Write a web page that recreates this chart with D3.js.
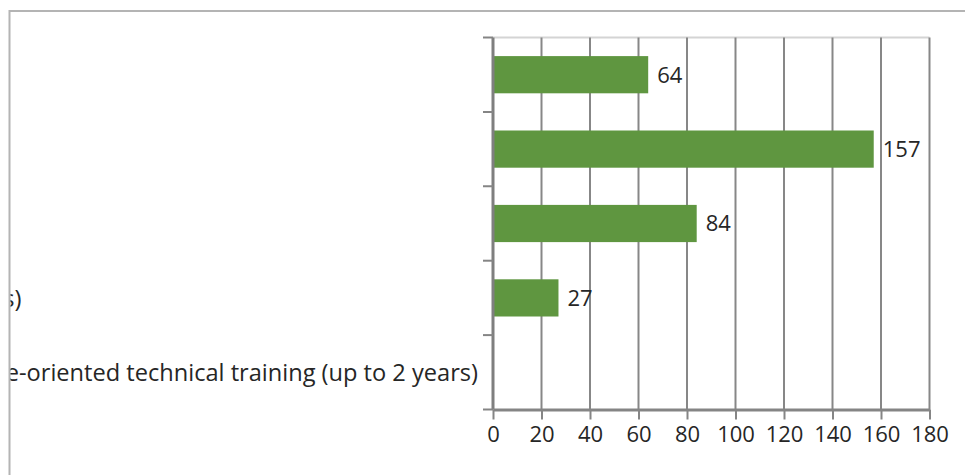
<!DOCTYPE html>
<html>
<head>
<meta charset="utf-8">
<script src="https://cdn.jsdelivr.net/npm/d3@7"></script>
<style>
  html, body { margin: 0; padding: 0; background: #fff; }
  svg { display: block; }
  text { font-family: "Open Sans", Lato, "Liberation Sans", sans-serif; fill: #262626; }
</style>
</head>
<body>
<svg id="chart" width="965" height="475"></svg>
<script>
// Highest completed qualification, number of respondents
const categories = [
  "Doctoral degree",
  "University degree",
  "Bachelor's degree",
  "Technical college (3 years)",
  "Vocational school, school-leaving certificate with additional practice-oriented technical training (up to 2 years)"
];
const values = [64, 157, 84, 27, null];
const xTicks = [0, 20, 40, 60, 80, 100, 120, 140, 160, 180];

const W = 965, H = 475;
const frame = { left: 9.5, top: 11 };
const plot = { left: 493, right: 929.5, top: 37.5, bottom: 409.5 };
const numberSize = 22;
const labelSize = 23.6;
const labelRight = 478;

const svg = d3.select("#chart");

// chart frame, cut at the page edge
svg.append("defs").append("clipPath").attr("id", "frameClip")
  .append("rect").attr("x", frame.left + 1).attr("y", frame.top + 1)
  .attr("width", W).attr("height", H);

svg.append("path")
  .attr("d", `M${frame.left},${H} V${frame.top} H${W}`)
  .attr("fill", "none").attr("stroke", "#b4b4b4").attr("stroke-width", 2);

const g = svg.append("g").attr("clip-path", "url(#frameClip)");

const x = d3.scaleLinear().domain([0, 180]).range([plot.left, plot.right]);
const y = d3.scaleBand().domain(categories)
  .range([plot.top, plot.bottom]).paddingInner(0.5).paddingOuter(0.25);

// plot area top edge
g.append("line")
  .attr("x1", plot.left).attr("x2", plot.right)
  .attr("y1", plot.top).attr("y2", plot.top)
  .attr("stroke", "#d4d4d4").attr("stroke-width", 2);

// vertical gridlines
g.append("g").selectAll("line")
  .data(xTicks.filter(d => d > 0))
  .join("line")
  .attr("x1", d => x(d)).attr("x2", d => x(d))
  .attr("y1", plot.top).attr("y2", plot.bottom)
  .attr("stroke", "#878787").attr("stroke-width", 2);

// bars
const rows = categories.map((c, i) => ({ c, v: values[i] })).filter(d => d.v != null);
g.append("g").selectAll("rect")
  .data(rows)
  .join("rect")
  .attr("x", x(0))
  .attr("y", d => y(d.c))
  .attr("width", d => x(d.v) - x(0))
  .attr("height", y.bandwidth())
  .attr("fill", "#5f9640");

// value labels
g.append("g").selectAll("text")
  .data(rows)
  .join("text")
  .attr("x", d => x(d.v) + 9)
  .attr("y", d => y(d.c) + y.bandwidth() / 2)
  .attr("dy", "0.36em")
  .attr("font-size", numberSize)
  .text(d => d.v);

// x axis
const xAxis = g.append("g")
  .attr("transform", `translate(0,${plot.bottom})`)
  .call(d3.axisBottom(x).tickValues(xTicks).tickSize(10).tickPadding(7).tickSizeOuter(0));
xAxis.select(".domain").attr("stroke", "#858585").attr("stroke-width", 3);
xAxis.selectAll(".tick line").attr("stroke", "#858585").attr("stroke-width", 2);
xAxis.selectAll(".tick text").attr("font-size", numberSize).attr("font-family", null).attr("fill", "#262626");

// y axis line with ticks at category boundaries
const step = y.step();
const boundaries = d3.range(categories.length + 1).map(i => plot.top + i * step);
g.append("line")
  .attr("x1", plot.left).attr("x2", plot.left)
  .attr("y1", plot.top).attr("y2", plot.bottom)
  .attr("stroke", "#7f7f7f").attr("stroke-width", 3);
g.append("g").selectAll("line")
  .data(boundaries)
  .join("line")
  .attr("x1", plot.left - 10).attr("x2", plot.left)
  .attr("y1", d => d).attr("y2", d => d)
  .attr("stroke", "#858585").attr("stroke-width", 2);

// category labels, centred in a label column as wide as the longest label
const labels = g.append("g").selectAll("text")
  .data(categories)
  .join("text")
  .attr("font-size", labelSize)
  .attr("text-anchor", "middle")
  .attr("y", d => y(d) + y.bandwidth() / 2)
  .attr("dy", "0.38em")
  .text(d => d);
let maxW = 0;
labels.each(function () { maxW = Math.max(maxW, this.getComputedTextLength()); });
labels.attr("x", labelRight - maxW / 2);
</script>
</body>
</html>
